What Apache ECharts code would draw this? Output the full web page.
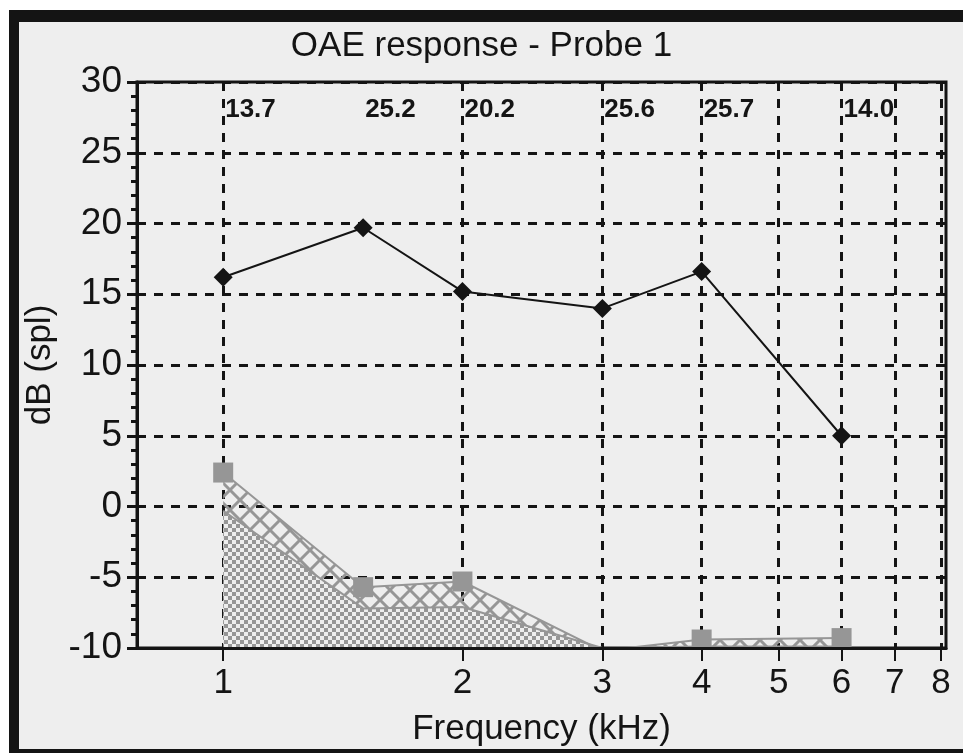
<!DOCTYPE html>
<html>
<head>
<meta charset="utf-8">
<script src="https://cdn.jsdelivr.net/npm/echarts@6/dist/echarts.min.js"></script>
<style>
html,body{margin:0;padding:0;background:#ffffff;}
#chart{width:963px;height:753px;}
</style>
</head>
<body>
<div id="chart"></div>
<script>
// ---- data ----
const freqs = [1, 1.5, 2, 3, 4, 6];               // kHz
const dpLevels = [16.2, 19.7, 15.2, 14.0, 16.6, 5.0];   // dB SPL (black diamonds)
const noiseUpper = [2.4, -5.7, -5.3, -10.2, -9.4, -9.3]; // grey squares
const noiseFloor = [-0.3, -7.2, -7.1, -10, -9.9, -9.9];  // checkered floor
const snrLabels = ['13.7', '25.2', '20.2', '25.6', '25.7', '14.0'];
const xTickValues = [1, 2, 3, 4, 5, 6, 7, 8];
const yMin = -10, yMax = 30, yStep = 5;

// ---- patterns ----
const GREY = '#969696';
const BG = '#eeeeee';
function checker() {
  const s = 4;
  const c = document.createElement('canvas');
  c.width = 2 * s; c.height = 2 * s;
  const g = c.getContext('2d');
  g.fillStyle = BG; g.fillRect(0, 0, 2 * s, 2 * s);
  g.fillStyle = GREY; g.fillRect(0, 0, s, s); g.fillRect(s, s, s, s);
  return c;
}
function hatch() {
  const n = 20;
  const c = document.createElement('canvas');
  c.width = n; c.height = n;
  const g = c.getContext('2d');
  g.strokeStyle = GREY; g.lineWidth = 3;
  g.beginPath();
  g.moveTo(-2, -2); g.lineTo(n + 2, n + 2);
  g.moveTo(n + 2, -2); g.lineTo(-2, n + 2);
  g.stroke();
  return c;
}

const chart = echarts.init(document.getElementById('chart'), null, {renderer: 'canvas'});
const pairs = arr => freqs.map((f, i) => [f, arr[i]]);
const BLACK = '#141414';
const font = 'Liberation Sans';

const option = {
  backgroundColor: BG,
  animation: false,
  title: {
    text: 'OAE response - Probe 1',
    left: 'center',
    top: 24,
    textStyle: {fontFamily: font, fontSize: 35, fontWeight: 'normal', color: BLACK}
  },
  grid: {
    left: 137, right: 17, top: 82, bottom: 105,
    show: true, borderColor: BLACK, borderWidth: 3, backgroundColor: 'transparent'
  },
  xAxis: [{
    type: 'log', logBase: 10, min: 0.779, max: 8.12,
    position: 'bottom', z: 0,
    axisLine: {show: false},
    axisTick: {show: false, customValues: xTickValues},
    axisLabel: {show: false, customValues: xTickValues},
    splitLine: {show: true, lineStyle: {color: BLACK, width: 3, type: [9, 8]}},
    minorTick: {show: false}, minorSplitLine: {show: false}
  }, {
    type: 'log', logBase: 10, min: 0.779, max: 8.12,
    position: 'bottom', z: 10,
    name: 'Frequency (kHz)', nameLocation: 'middle', nameGap: 64,
    nameTextStyle: {fontFamily: font, fontSize: 35, color: BLACK},
    axisLine: {show: true, lineStyle: {color: BLACK, width: 3}},
    axisTick: {show: true, length: 13, inside: false, customValues: xTickValues, lineStyle: {color: BLACK, width: 2}},
    axisLabel: {show: true, customValues: xTickValues, margin: 18, fontFamily: font, fontSize: 35, color: BLACK},
    splitLine: {show: false}
  }],
  yAxis: {
    type: 'value', min: yMin, max: yMax, interval: yStep,
    name: 'dB (spl)', nameLocation: 'middle', nameGap: 76, nameRotate: 90,
    nameTextStyle: {fontFamily: font, fontSize: 35, color: BLACK},
    axisLine: {show: true, lineStyle: {color: BLACK, width: 3}},
    axisTick: {show: true, length: 10, lineStyle: {color: BLACK, width: 3}},
    minorTick: {show: true, splitNumber: 5, length: 6, lineStyle: {color: BLACK, width: 3}},
    axisLabel: {margin: 15, fontFamily: font, fontSize: 37, color: BLACK},
    splitLine: {show: true, lineStyle: {color: BLACK, width: 3, type: [9, 8]}}
  },
  graphic: [
    {type: 'rect', silent: true, z: 100, shape: {x: 0, y: 0, width: 963, height: 10}, style: {fill: '#ffffff'}},
    {type: 'rect', silent: true, z: 100, shape: {x: 0, y: 0, width: 9, height: 753}, style: {fill: '#ffffff'}},
    {type: 'rect', silent: true, z: 100, shape: {x: 9, y: 10, width: 954, height: 12}, style: {fill: BLACK}},
    {type: 'rect', silent: true, z: 100, shape: {x: 9, y: 10, width: 10, height: 743}, style: {fill: BLACK}},
    {type: 'rect', silent: true, z: 100, shape: {x: 9, y: 749, width: 954, height: 4}, style: {fill: BLACK}}
  ],
  series: [
    {
      name: 'noise band', type: 'line', xAxisIndex: 0, z: 2,
      data: pairs(noiseUpper), showSymbol: false, symbol: 'none',
      lineStyle: {width: 0, opacity: 0},
      areaStyle: {origin: 'start', color: {image: hatch(), repeat: 'repeat'}, opacity: 1}
    },
    {
      name: 'noise floor', type: 'line', xAxisIndex: 0, z: 3,
      data: pairs(noiseFloor), showSymbol: false, symbol: 'none',
      lineStyle: {width: 2, color: GREY},
      areaStyle: {origin: 'start', color: {image: checker(), repeat: 'repeat'}, opacity: 1}
    },
    {
      name: 'noise +2sd', type: 'line', xAxisIndex: 0, z: 4,
      data: pairs(noiseUpper), symbol: 'rect', symbolSize: 20,
      itemStyle: {color: GREY}, lineStyle: {width: 2, color: GREY}
    },
    {
      name: 'DP level', type: 'line', xAxisIndex: 0, z: 5,
      data: pairs(dpLevels), symbol: 'diamond', symbolSize: 19,
      itemStyle: {color: BLACK}, lineStyle: {width: 2, color: BLACK}
    },
    {
      name: 'SNR', type: 'scatter', xAxisIndex: 0, z: 6,
      data: freqs.map((f, i) => [f, 28]), symbolSize: 0,
      itemStyle: {opacity: 1},
      label: {
        show: true, position: 'right', distance: 2,
        formatter: p => snrLabels[p.dataIndex],
        fontFamily: "'Liberation Sans Narrow', 'Liberation Sans', sans-serif",
        fontWeight: 'bold', fontSize: 26, color: BLACK, opacity: 1
      }
    }
  ]
};
chart.setOption(option);
</script>
</body>
</html>
